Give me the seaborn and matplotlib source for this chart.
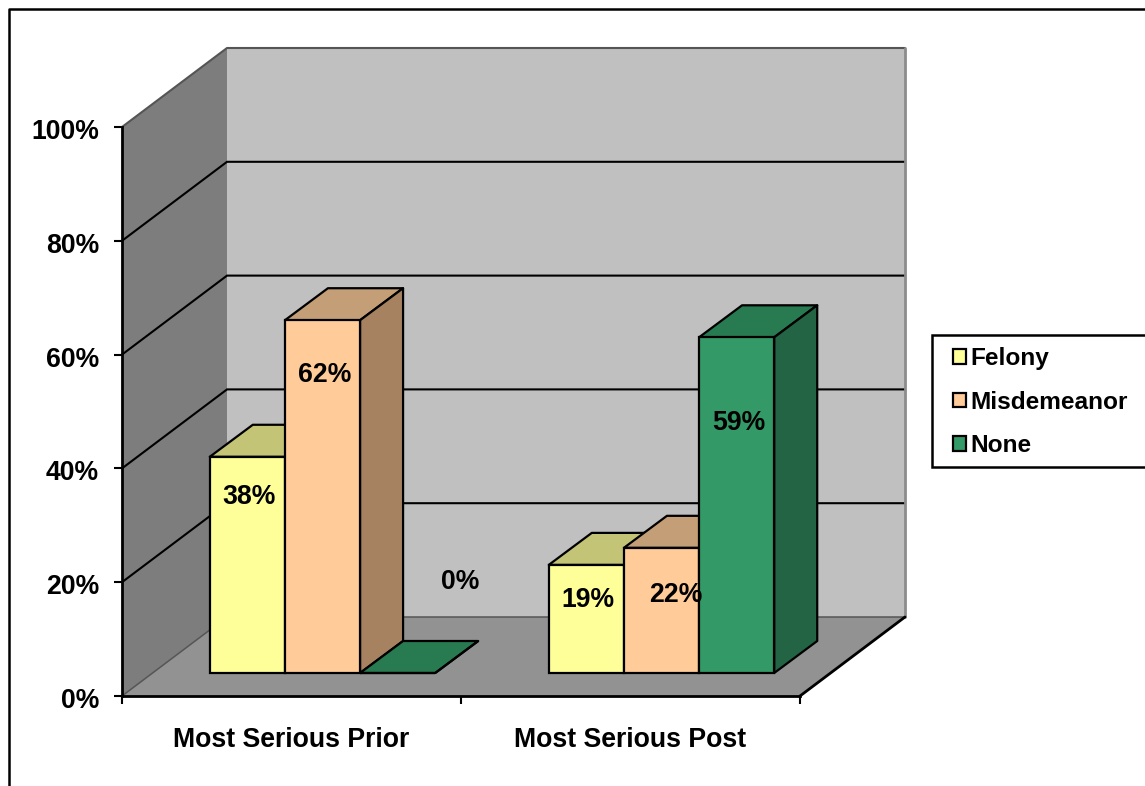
import matplotlib
matplotlib.use("Agg")
import matplotlib.pyplot as plt
import pandas as pd
import seaborn as sns
from matplotlib.lines import Line2D
from matplotlib.patches import Polygon, Rectangle
from matplotlib.transforms import Affine2D

# Offence severity shares, in percent
categories = ["Most Serious Prior", "Most Serious Post"]
series_names = ["Felony", "Misdemeanor", "None"]
felony = [38, 19]
misdemeanor = [62, 22]
none_offence = [0, 59]

# Where each value label sits: height in percent, horizontal nudge in pixels
label_heights = [[35.0, 16.9], [56.4, 17.8], [20.0, 48.0]]
label_nudges = [[3, 3], [3, 15], [64, 3]]

front_colors = ["#FFFF99", "#FFCC99", "#339966"]
top_colors = ["#C4C476", "#C49E76", "#287A50"]
side_colors = ["#C4C476", "#A68260", "#226444"]

W, H = 1145, 786
LEFT, RIGHT, TOP, BOTTOM = 122, 800, 127, 696

sns.set_theme(style="white")
plt.rcParams["font.family"] = ["Liberation Sans", "DejaVu Sans"]
plt.rcParams["font.weight"] = "bold"
FS = 19.2
LEGEND_FS = 17.6

fig = plt.figure(figsize=(W / 100, H / 100), dpi=100, facecolor="white")
ax = fig.add_axes([LEFT / W, 1 - BOTTOM / H, (RIGHT - LEFT) / W, (BOTTOM - TOP) / H])
ax.patch.set_alpha(0)

frame = pd.DataFrame({
    "category": categories * 3,
    "series": [s for s in series_names for _ in categories],
    "value": felony + misdemeanor + none_offence,
})
sns.barplot(
    data=frame, x="category", y="value", hue="series", hue_order=series_names,
    palette=front_colors, width=0.665, gap=0, saturation=1, errorbar=None,
    edgecolor="black", linewidth=1.6, ax=ax,
)
handles, labels = ax.get_legend_handles_labels()
ax.get_legend().remove()

ax.set_xlim(-0.5, 1.5)
ax.set_ylim(0, 100)
x_per_px = 2 / (RIGHT - LEFT)
y_per_px = 100 / (BOTTOM - TOP)


def px_x(n):
    return n * x_per_px


def px_y(n):
    return n * y_per_px


# Oblique box: back wall, side wall and floor
wall_dx, wall_dy = px_x(105), px_y(79)
x0, x1 = -0.5, 1.5
ax.add_patch(Polygon([(x0 + wall_dx, wall_dy), (x1 + wall_dx, wall_dy),
                      (x1 + wall_dx, 100 + wall_dy), (x0 + wall_dx, 100 + wall_dy)],
                     facecolor="#C0C0C0", edgecolor="none", clip_on=False, zorder=1))
ax.add_patch(Polygon([(x0, 0), (x0 + wall_dx, wall_dy),
                      (x0 + wall_dx, 100 + wall_dy), (x0, 100)],
                     facecolor="#7D7D7D", edgecolor="none", clip_on=False, zorder=1))
ax.add_patch(Polygon([(x0, 0), (x1, 0), (x1 + wall_dx, wall_dy), (x0 + wall_dx, wall_dy)],
                     facecolor="#929292", edgecolor="none", clip_on=False, zorder=1))

for level in (20, 40, 60, 80):
    ax.plot([x0, x0 + wall_dx, x1 + wall_dx], [level, level + wall_dy, level + wall_dy],
            color="black", lw=1.5, clip_on=False, zorder=1.5, solid_joinstyle="miter")
ax.plot([x0, x0 + wall_dx, x1 + wall_dx], [100, 100 + wall_dy, 100 + wall_dy],
        color="#555555", lw=1.5, clip_on=False, zorder=1.5)
ax.plot([x0, x0 + wall_dx, x1 + wall_dx], [0, wall_dy, wall_dy],
        color="#555555", lw=1.1, clip_on=False, zorder=1.5)
ax.plot([x1 + wall_dx, x1 + wall_dx], [wall_dy, 100 + wall_dy],
        color="#8C8C8C", lw=2, clip_on=False, zorder=1.5)
ax.plot([x1, x1 + wall_dx], [0, wall_dy], color="black", lw=2, clip_on=False, zorder=1.5)

# Bars stand partway into the box and get their own top and side faces
lift_dx, lift_dy = px_x(31), px_y(23)
bar_dx, bar_dy = px_x(43), px_y(32)
for s, container in enumerate(ax.containers):
    for c, bar in enumerate(container):
        left = bar.get_x() + lift_dx
        width = bar.get_width()
        height = bar.get_height()
        bar.set_x(left)
        bar.set_y(lift_dy)
        bar.set_clip_on(False)
        z = 3 + s + 3 * c
        bar.set_zorder(z)
        base, top = lift_dy, lift_dy + height
        right = left + width
        ax.add_patch(Polygon([(left, top), (right, top), (right + bar_dx, top + bar_dy),
                              (left + bar_dx, top + bar_dy)],
                             facecolor=top_colors[s], edgecolor="black", lw=1.6,
                             joinstyle="round", clip_on=False, zorder=z - 0.1))
        ax.add_patch(Polygon([(right, base), (right + bar_dx, base + bar_dy),
                              (right + bar_dx, top + bar_dy), (right, top)],
                             facecolor=side_colors[s], edgecolor="black", lw=1.6,
                             joinstyle="round", clip_on=False, zorder=z - 0.1))
        ax.text(bar.get_x() + width / 2 + px_x(label_nudges[s][c] - 1), label_heights[s][c],
                f"{int(height)}%", ha="center", va="center", fontsize=FS,
                fontweight="bold", color="black", zorder=20)

# Axes: ticks on the front edge, category names between the ticks
sns.despine(ax=ax, top=True, right=True)
for side in ("left", "bottom"):
    ax.spines[side].set_color("black")
    ax.spines[side].set_linewidth(2)
    ax.spines[side].set_zorder(2)
ax.set_yticks(range(0, 101, 20))
ax.set_yticklabels([f"{v}%" for v in range(0, 101, 20)], fontsize=FS, fontweight="bold", color="black")
ax.set_xticks([-0.5, 0.5, 1.5])
ax.set_xticklabels([])
ax.set_xticks([0, 1], minor=True)
ax.set_xticklabels(categories, minor=True, fontsize=FS, fontweight="bold", color="black")
ax.tick_params(axis="y", which="major", left=True, length=5.5, width=1.5, color="black", pad=11)
ax.tick_params(axis="x", which="major", bottom=True, length=5.5, width=1.5, color="black")
ax.tick_params(axis="x", which="minor", bottom=False, length=0, pad=22)
ax.set_xlabel("")
ax.set_ylabel("")

# The percent labels sit slightly below their ticks
for tick_label in ax.get_yticklabels():
    tick_label.set_transform(tick_label.get_transform() + Affine2D().translate(0, -2))

# Chart border, cut off by the right and bottom of the figure
fig.add_artist(Line2D([9 / W, 9 / W, 1], [0, 1 - 9 / H, 1 - 9 / H],
                      color="black", lw=1.8, transform=fig.transFigure))

# Legend box runs off the right side of the figure
fig.add_artist(Rectangle((932 / W, 1 - 467 / H), 230 / W, 132 / H, facecolor="white",
                         edgecolor="black", lw=1.8, transform=fig.transFigure, clip_on=False))
legend = fig.legend(
    handles, labels, loc="upper left", bbox_to_anchor=(953 / W, 1 - 347 / H),
    frameon=False, fontsize=LEGEND_FS, labelcolor="black", handlelength=0.55, handleheight=0.55,
    handletextpad=0.16, labelspacing=0.84, borderpad=0, borderaxespad=0,
)
for h in legend.get_patches():
    h.set_edgecolor("black")
    h.set_linewidth(1.6)

fig.savefig("out.png", dpi=100, facecolor="white")
